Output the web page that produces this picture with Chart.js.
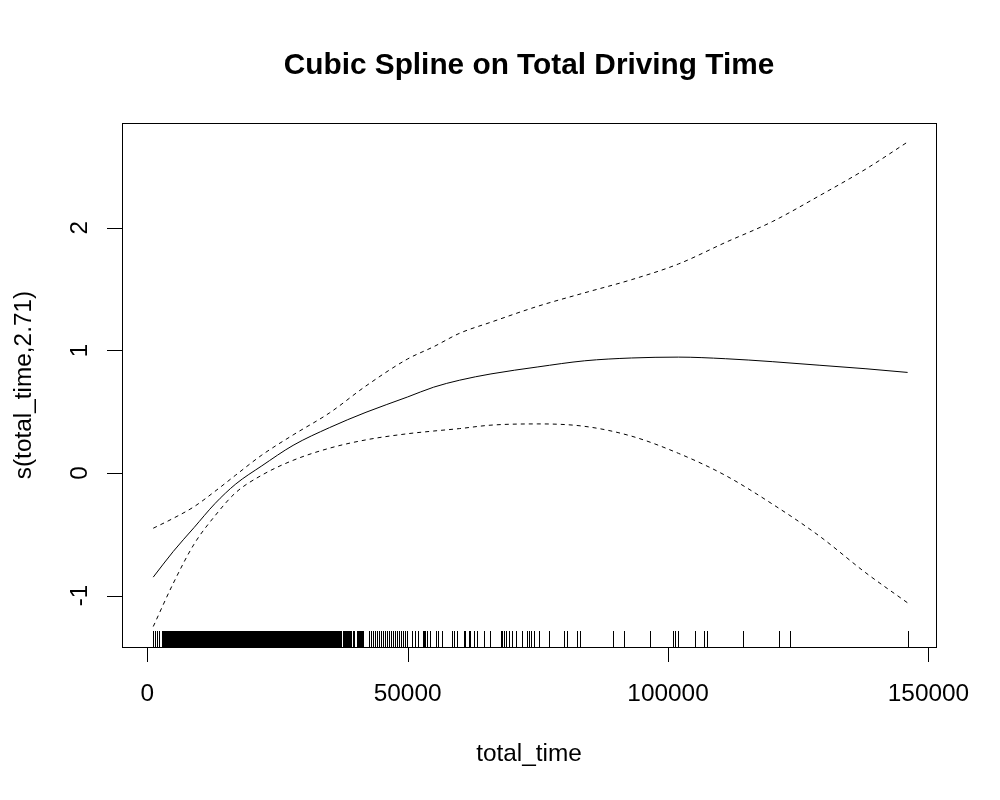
<!DOCTYPE html>
<html>
<head>
<meta charset="utf-8">
<title>Cubic Spline on Total Driving Time</title>
<script src="https://cdn.jsdelivr.net/npm/chart.js@4.4.1/dist/chart.umd.min.js"></script>
<style>
  html, body { margin: 0; padding: 0; background: #fff; }
  canvas { display: block; }
</style>
</head>
<body>
<canvas id="splineChart" width="1000" height="800"></canvas>
<script>
// x positions where the smooth and its bands were read
const timeGrid = [1150, 5000, 9000, 13000, 17000, 22000, 28000, 35000, 42000, 50000, 55000,
  60000, 66000, 75000, 84000, 93000, 102000, 111000, 120000, 129000, 138000, 146000];

// fitted smooth s(total_time, 2.71)
const fitValues = [-0.85, -0.64, -0.445, -0.25, -0.09, 0.058, 0.225, 0.37, 0.495, 0.62, 0.70,
  0.757, 0.808, 0.865, 0.915, 0.938, 0.945, 0.932, 0.908, 0.879, 0.85, 0.82];

// upper / lower confidence band (dashed)
const upperValues = [-0.451, -0.37, -0.275, -0.15, -0.017, 0.146, 0.31, 0.49, 0.71, 0.93, 1.03,
  1.14, 1.23, 1.36, 1.47, 1.577, 1.705, 1.88, 2.05, 2.26, 2.48, 2.70];
const lowerValues = [-1.253, -0.90, -0.58, -0.35, -0.16, -0.018, 0.103, 0.202, 0.27, 0.32, 0.342,
  0.362, 0.39, 0.40, 0.38, 0.30, 0.16, -0.02, -0.253, -0.513, -0.816, -1.06];

// rug: stretches of total_time where the ticks merge into a solid band
const rugDense = [[2770, 37200], [37600, 39100], [39500, 39750], [40300, 41500], [52960, 53400]];

// rug: single observed total_time values
const rugValues = [
  1150, 1550, 1950, 2350,
  42500, 42880, 43270, 43650, 44040, 44420, 44810, 45190, 45580, 45960, 46350, 46730, 47120,
  47500, 47880, 48270, 48650, 49040, 49420, 49800,
  50840, 51480, 51920, 53730, 54360, 55520, 55770, 56610, 58530, 58980,
  59500, 60770, 61090, 61730, 62050, 62690, 63340, 64620, 65900, 67830, 68150, 68460, 68790,
  69430, 70070, 70710, 72000, 72960, 73270, 73600, 74230, 75200, 77120, 80000, 80520, 82570,
  83080, 89490, 91600, 96600, 100960, 101290, 101900, 105150, 106920, 107440, 114450, 121340,
  123460, 146040
];

const xTicks = [0, 50000, 100000, 150000];
const yTicks = [-1, 0, 1, 2];

const mainTitle = 'Cubic Spline on Total Driving Time';
const xTitle = 'total_time';
const yTitle = 's(total_time,2.71)';

const FONT = '"Liberation Sans", Arial, Helvetica, sans-serif';

function pts(ys) {
  return timeGrid.map((x, i) => ({ x: x, y: ys[i] }));
}

// R style frame, ticks, labels and rug
const basePlot = {
  id: 'basePlot',
  afterDraw(chart) {
    const ctx = chart.ctx;
    const area = chart.chartArea;
    const xs = chart.scales.x;
    const ys = chart.scales.y;

    ctx.save();
    ctx.strokeStyle = '#000';
    ctx.fillStyle = '#000';
    ctx.lineWidth = 1;

    // box
    ctx.strokeRect(area.left + 0.5, area.top + 0.5, area.right - area.left, area.bottom - area.top);

    // rug
    const rugLen = Math.round(0.03 * (area.bottom - area.top));
    const rugTop = area.bottom - rugLen;
    rugDense.forEach(r => {
      const a = Math.round(xs.getPixelForValue(r[0]));
      const b = Math.round(xs.getPixelForValue(r[1]));
      ctx.fillRect(a, rugTop, b - a + 1, rugLen);
    });
    rugValues.forEach(v => {
      const px = Math.round(xs.getPixelForValue(v));
      ctx.fillRect(px, rugTop, 1, rugLen);
    });

    // x ticks
    ctx.font = '24.4px ' + FONT;
    ctx.textAlign = 'center';
    ctx.textBaseline = 'alphabetic';
    ctx.beginPath();
    xTicks.forEach(v => {
      const px = Math.round(xs.getPixelForValue(v)) + 0.5;
      ctx.moveTo(px, area.bottom + 0.5);
      ctx.lineTo(px, area.bottom + 15);
    });
    ctx.stroke();
    xTicks.forEach(v => {
      ctx.fillText(String(v), xs.getPixelForValue(v), area.bottom + 54);
    });

    // y ticks
    ctx.beginPath();
    yTicks.forEach(v => {
      const py = Math.round(ys.getPixelForValue(v)) + 0.5;
      ctx.moveTo(area.left + 0.5, py);
      ctx.lineTo(area.left - 15, py);
    });
    ctx.stroke();
    yTicks.forEach(v => {
      ctx.save();
      ctx.translate(area.left - 35, ys.getPixelForValue(v));
      ctx.rotate(-Math.PI / 2);
      ctx.fillText(String(v), 0, 0);
      ctx.restore();
    });

    // axis titles
    const midX = (area.left + area.right) / 2;
    ctx.fillText(xTitle, midX, area.bottom + 114);
    ctx.save();
    ctx.translate(31, (area.top + area.bottom) / 2);
    ctx.rotate(-Math.PI / 2);
    ctx.fillText(yTitle, 0, 0);
    ctx.restore();

    // main title
    ctx.font = 'bold 29.8px ' + FONT;
    ctx.fillText(mainTitle, midX, 74);

    ctx.restore();
  }
};

new Chart(document.getElementById('splineChart'), {
  type: 'line',
  data: {
    datasets: [
      {
        label: 'fit',
        data: pts(fitValues),
        borderColor: '#000',
        borderWidth: 1,
        pointRadius: 0,
        cubicInterpolationMode: 'monotone'
      },
      {
        label: 'upper',
        data: pts(upperValues),
        borderColor: '#000',
        borderWidth: 1,
        borderDash: [4, 4],
        pointRadius: 0,
        cubicInterpolationMode: 'monotone'
      },
      {
        label: 'lower',
        data: pts(lowerValues),
        borderColor: '#000',
        borderWidth: 1,
        borderDash: [4, 4],
        pointRadius: 0,
        cubicInterpolationMode: 'monotone'
      }
    ]
  },
  options: {
    responsive: false,
    animation: false,
    devicePixelRatio: 1,
    layout: { padding: { left: 122, right: 64, top: 123, bottom: 153 } },
    plugins: {
      legend: { display: false },
      tooltip: { enabled: false },
      title: { display: false }
    },
    scales: {
      x: { type: 'linear', display: false, min: -4850, max: 151450 },
      y: { type: 'linear', display: false, min: -1.42, max: 2.855 }
    }
  },
  plugins: [basePlot]
});
</script>
</body>
</html>
